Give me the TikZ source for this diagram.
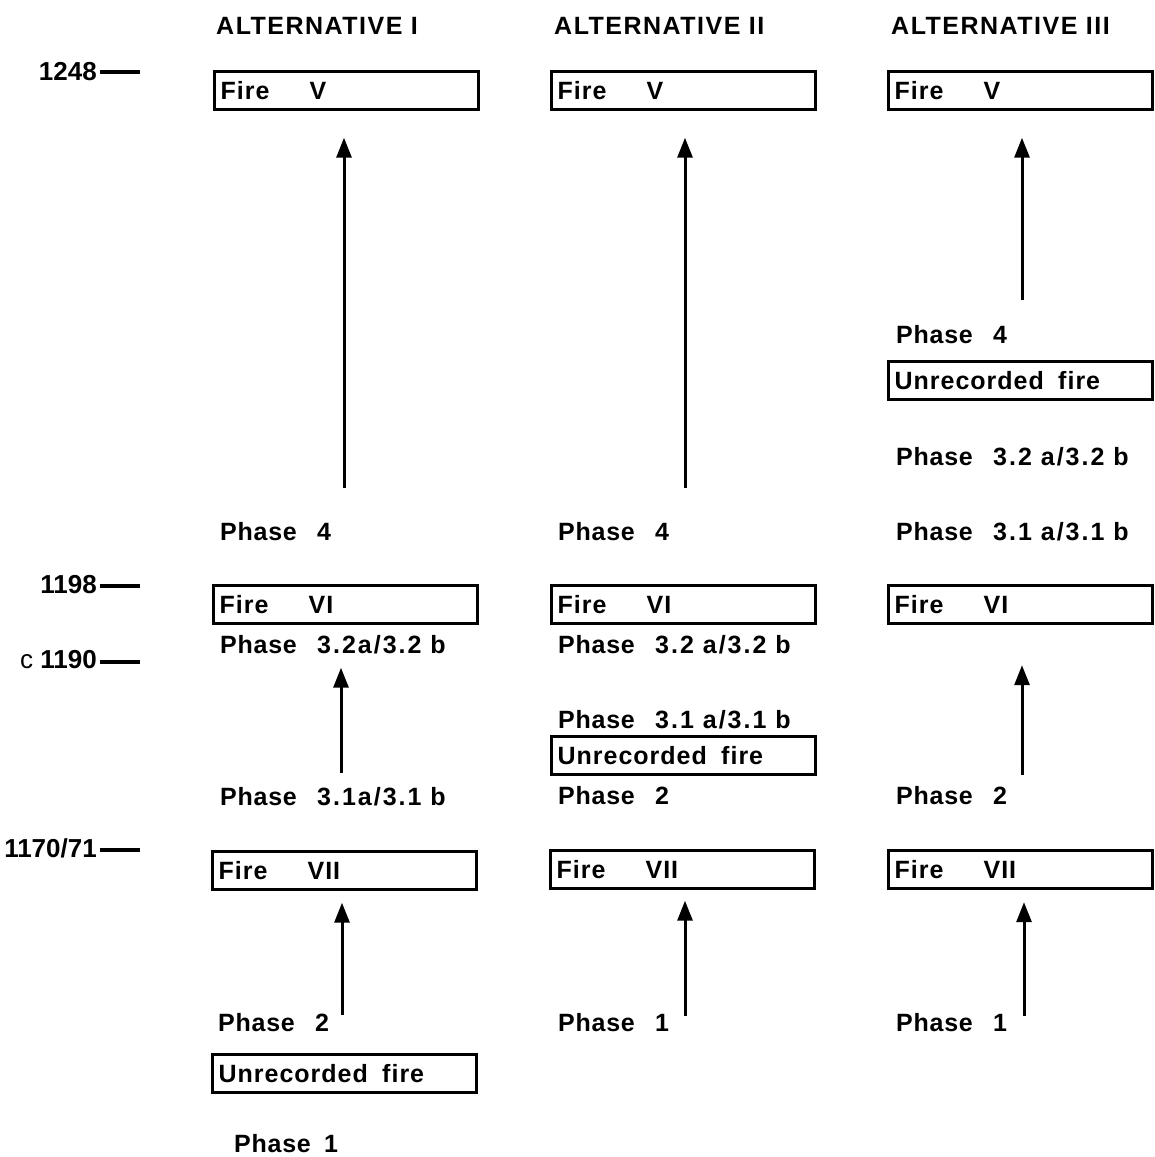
\documentclass[tikz,border=0pt]{standalone}
\usepackage{fontspec}
\setmainfont{Liberation Sans}
\usetikzlibrary{arrows.meta}
\newcommand{\fireL}[1]{\makebox[89pt][l]{Fire}#1}
\newcommand{\phL}[1]{\makebox[97pt][l]{Phase}{\addfontfeature{LetterSpace=8}#1}}
\begin{document}
\begin{tikzpicture}[x=1pt,y=-1pt,
  lbl/.style={font=\fontsize{25}{30}\selectfont\bfseries\addfontfeature{LetterSpace=3}, inner sep=0pt, anchor=base west},
  hdr/.style={font=\fontsize{25}{30}\selectfont\bfseries\addfontfeature{LetterSpace=6}, inner sep=0pt, anchor=base west},
  yr/.style={font=\fontsize{26}{30}\selectfont\bfseries, inner sep=0pt, anchor=base east},
  firebox/.style={draw, line width=3.2pt, anchor=north west, text width=252pt, minimum height=38pt,
    inner xsep=6pt, inner ysep=0pt, align=left, font=\fontsize{25}{30}\selectfont\bfseries\addfontfeature{LetterSpace=4}},
  tick/.style={line width=3.5pt},
  arr/.style={line width=3pt, -{Triangle[length=20pt,width=15pt]}}
]
\useasboundingbox[fill=white] (0,0) rectangle (1155,1157);

% headers
\node[hdr] (h1) at (216,34) {ALTERNATIVE I};
\node[hdr] (h2) at (554,34) {ALTERNATIVE II};
\node[hdr] (h3) at (891,34) {ALTERNATIVE III};

% time scale
\node[yr] (t1) at (97,80) {1248};
\node[yr] (t2) at (97,593) {1198};
\node[yr] (t3) at (97,668) {{\mdseries c} 1190};
\node[yr] (t4) at (97,857) {1170/71};
\draw[tick] (100,72) -- (140,72);
\draw[tick] (100,586) -- (140,586);
\draw[tick] (100,662) -- (140,662);
\draw[tick] (100,850) -- (140,850);

% boxes
\node[firebox] (fv1) at (213,69.5) {\fireL{V}};
\node[firebox] (fv2) at (550,69.5) {\fireL{V}};
\node[firebox] (fv3) at (887,69.5) {\fireL{V}};
\node[firebox] (fvi1) at (212,583.5) {\fireL{VI}};
\node[firebox] (fvi2) at (550,583.5) {\fireL{VI}};
\node[firebox] (fvi3) at (887,584) {\fireL{VI}};
\node[firebox] (fvii1) at (211,849.5) {\fireL{VII}};
\node[firebox] (fvii2) at (549,848.5) {\fireL{VII}};
\node[firebox] (fvii3) at (887,849) {\fireL{VII}};
\node[firebox] (u1) at (211,1052.5) {Unrecorded\hspace{6pt} fire};
\node[firebox] (u2) at (550,734.5) {Unrecorded\hspace{6pt} fire};
\node[firebox] (u3) at (887,359.5) {Unrecorded\hspace{6pt} fire};

% phase labels column 1
\node[lbl] (p14) at (220,540) {\phL{4}};
\node[lbl] (p132) at (220,653) {\phL{3.2a/3.2 b}};
\node[lbl] (p131) at (220,805) {\phL{3.1a/3.1 b}};
\node[lbl] (p12) at (218,1031) {\phL{2}};
\node[lbl] (p11) at (234,1152) {\makebox[90pt][l]{Phase}1};
% column 2
\node[lbl] (p24) at (558,540) {\phL{4}};
\node[lbl] (p232) at (558,653) {\phL{3.2 a/3.2 b}};
\node[lbl] (p231) at (558,728) {\phL{3.1 a/3.1 b}};
\node[lbl] (p22) at (558,804) {\phL{2}};
\node[lbl] (p21) at (558,1031) {\phL{1}};
% column 3
\node[lbl] (p34) at (896,343) {\phL{4}};
\node[lbl] (p332) at (896,465) {\phL{3.2 a/3.2 b}};
\node[lbl] (p331) at (896,540) {\phL{3.1 a/3.1 b}};
\node[lbl] (p32) at (896,804) {\phL{2}};
\node[lbl] (p31) at (896,1031) {\phL{1}};

% arrow start points
\coordinate (s1a) at (344,488);
\coordinate (s2a) at (685,488);
\coordinate (s3a) at (1022,300);
\coordinate (s1b) at (341,773);
\coordinate (s3b) at (1022,775);
\coordinate (s1c) at (342,1015);
\coordinate (s2c) at (685,1016);
\coordinate (s3c) at (1024,1016);

\draw[arr, shorten >=27pt] (s1a) -- (s1a |- fv1.south);
\draw[arr, shorten >=27pt] (s2a) -- (s2a |- fv2.south);
\draw[arr, shorten >=27pt] (s3a) -- (s3a |- fv3.south);
\draw[arr, shorten >=43pt] (s1b) -- (s1b |- fvi1.south);
\draw[arr, shorten >=40pt] (s3b) -- (s3b |- fvi3.south);
\draw[arr, shorten >=12pt] (s1c) -- (s1c |- fvii1.south);
\draw[arr, shorten >=11pt] (s2c) -- (s2c |- fvii2.south);
\draw[arr, shorten >=12pt] (s3c) -- (s3c |- fvii3.south);
\end{tikzpicture}
\end{document}
